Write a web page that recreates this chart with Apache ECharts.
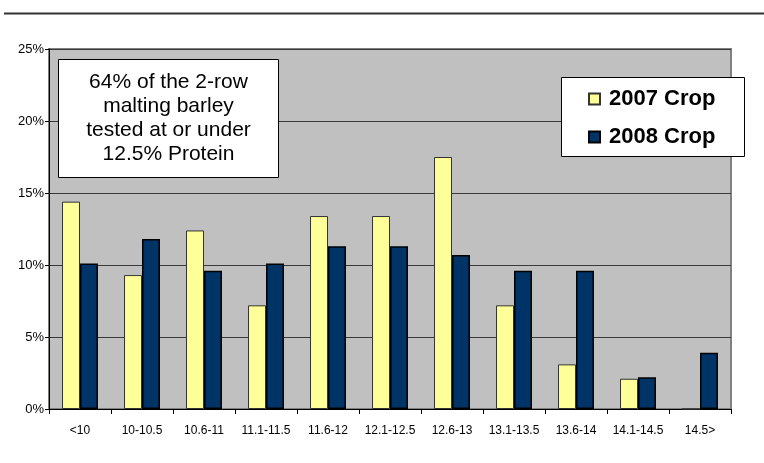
<!DOCTYPE html>
<html><head><meta charset="utf-8">
<script src="https://cdn.jsdelivr.net/npm/echarts@6/dist/echarts.min.js"></script>
<style>html,body{margin:0;padding:0;background:#fff;}#c{width:764px;height:463px;}</style>
</head><body><div id="c"></div>
<script>
const categories = ['<10','10-10.5','10.6-11','11.1-11.5','11.6-12','12.1-12.5','12.6-13','13.1-13.5','13.6-14','14.1-14.5','14.5>'];
const crop2007 = [14.4, 9.3, 12.4, 7.2, 13.4, 13.4, 17.5, 7.2, 3.1, 2.1, 0];
const crop2008 = [10.1, 11.8, 9.6, 10.1, 11.3, 11.3, 10.7, 9.6, 9.6, 2.2, 3.9];
const seriesNames = ['2007 Crop', '2008 Crop'];
const noteLines = ['64% of the 2-row', 'malting barley', 'tested at or under', '12.5% Protein'];

const chart = echarts.init(document.getElementById('c'));
const font = 'Arial, "Liberation Sans", sans-serif';
chart.setOption({
  animation: false,
  backgroundColor: '#ffffff',
  grid: {left: 49, right: 33, top: 49, bottom: 54, show: true, backgroundColor: '#C0C0C0', borderColor: '#808080', borderWidth: 2},
  xAxis: {
    type: 'category', data: categories,
    axisLine: {lineStyle: {color: '#000', width: 1}},
    axisTick: {show: true, length: 5, lineStyle: {color: '#000'}},
    axisLabel: {color: '#000', fontFamily: font, fontSize: 12, margin: 16, interval: 0}
  },
  yAxis: {
    type: 'value', min: 0, max: 25, interval: 5,
    axisLine: {show: true, lineStyle: {color: '#000', width: 1}},
    axisTick: {show: true, length: 4, lineStyle: {color: '#000'}},
    axisLabel: {color: '#000', fontFamily: font, fontSize: 13, margin: 5, formatter: '{value}%'},
    splitLine: {lineStyle: {color: '#3a3a3a', width: 1}}
  },
  legend: {
    orient: 'vertical', left: 588, top: 88, padding: 0, itemGap: 16,
    itemWidth: 11, itemHeight: 11, icon: 'rect',
    textStyle: {fontFamily: font, fontSize: 22, fontWeight: 'bold', color: '#000', lineHeight: 22, padding: [0, 0, 0, 4]},
    data: seriesNames
  },
  series: [
    {name: seriesNames[0], type: 'bar', data: crop2007, barGap: '0%', barCategoryGap: '42%',
     itemStyle: {color: '#FFFF99', borderColor: '#333', borderWidth: 1}},
    {name: seriesNames[1], type: 'bar', data: crop2008, barGap: '0%', barCategoryGap: '42%',
     itemStyle: {color: '#003366', borderColor: '#000', borderWidth: 1.5}}
  ],
  graphic: [
    {type: 'line', shape: {x1: 4, y1: 13.5, x2: 764, y2: 13.5}, style: {stroke: '#333', lineWidth: 2}},
    {type: 'rect', shape: {x: 58.5, y: 59.5, width: 220, height: 118}, style: {fill: '#fff', stroke: '#000', lineWidth: 1}, z: 10},
    {type: 'text', x: 168.5, y: 118.5, z: 11, style: {text: noteLines.join('\n'), fontFamily: font, fontSize: 21, lineHeight: 24, fill: '#000', align: 'center', verticalAlign: 'middle'}},
    {type: 'rect', shape: {x: 561.5, y: 77.5, width: 183, height: 79}, style: {fill: '#fff', stroke: '#000', lineWidth: 1}, z: 1}
  ]
});
</script></body></html>
